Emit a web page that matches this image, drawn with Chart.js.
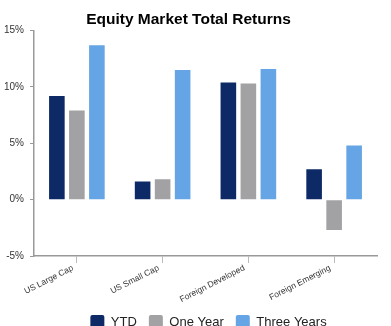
<!DOCTYPE html>
<html>
<head>
<meta charset="utf-8">
<script src="https://cdn.jsdelivr.net/npm/chart.js@4"></script>
<style>
  html, body { margin: 0; padding: 0; background: #fff; }
  #wrap { width: 391px; height: 326px; }
</style>
</head>
<body>
<div id="wrap"><canvas id="myChart"></canvas></div>
<script>
const categories = ['US Large Cap', 'US Small Cap', 'Foreign Developed', 'Foreign Emerging'];
const ytd = [9.2, 1.6, 10.4, 2.7];
const oneYear = [7.9, 1.8, 10.3, -2.7];
const threeYears = [13.7, 11.5, 11.6, 4.8];
const yTicks = [-5, 0, 5, 10, 15];

const ctx = document.getElementById('myChart');
const font = "'Liberation Sans', Arial, Helvetica, sans-serif";

// centre the legend under the plot area rather than the whole canvas
const legendUnderPlot = {
    id: 'legendUnderPlot',
    afterLayout(chart) {
        const lg = chart.legend;
        const shift = (chart.chartArea.left + chart.chartArea.right) / 2 - (lg.left + lg.right) / 2 + 3;
        lg.left += shift;
        lg.right += shift;
    }
};

var returnsChart = new Chart(ctx, {
    type: 'bar',
    data: {
        labels: categories,
        datasets: [{
            label: 'YTD',
            data: ytd,
            backgroundColor: '#0e2a66'
        }, {
            label: 'One Year',
            data: oneYear,
            backgroundColor: '#a2a2a4'
        }, {
            label: 'Three Years',
            data: threeYears,
            backgroundColor: '#66a5e5'
        }]
    },
    plugins: [legendUnderPlot],
    options: {
        responsive: true,
        maintainAspectRatio: false,
        animation: false,
        categoryPercentage: 0.7,
        barPercentage: 0.78,
        layout: { padding: { left: 0, right: 14, top: 4, bottom: -13 } },
        plugins: {
            title: {
                display: true,
                text: 'Equity Market Total Returns',
                color: '#000',
                font: { family: font, size: 15.5, weight: 'bold' },
                padding: { top: 6, bottom: 2 }
            },
            legend: {
                position: 'bottom',
                labels: {
                    color: '#222',
                    font: { family: font, size: 13 },
                    boxWidth: 14,
                    boxHeight: 14,
                    useBorderRadius: true,
                    borderRadius: 2,
                    padding: 12
                }
            },
            tooltip: { enabled: false }
        },
        scales: {
            x: {
                afterFit: function (scale) {
                    scale.height = 47;
                },
                grid: {
                    offset: false,
                    drawOnChartArea: false,
                    drawTicks: true,
                    tickLength: 7,
                    color: '#bbb'
                },
                border: { color: '#999', width: 1.5 },
                ticks: {
                    color: '#333',
                    font: { family: font, size: 8.5 },
                    minRotation: 27,
                    maxRotation: 27,
                    padding: 0,
                    labelOffset: -4
                }
            },
            y: {
                min: -5,
                max: 15,
                afterBuildTicks: function (scale) {
                    scale.ticks = yTicks.map(v => ({ value: v }));
                },
                afterFit: function (scale) {
                    scale.width = 34;
                },
                grid: {
                    drawOnChartArea: false,
                    drawTicks: true,
                    tickLength: 4,
                    color: '#999'
                },
                border: { color: '#999', width: 1.5 },
                ticks: {
                    color: '#333',
                    font: { family: font, size: 10 },
                    padding: 6,
                    callback: v => v + '%'
                }
            }
        }
    }
});
</script>
</body>
</html>
